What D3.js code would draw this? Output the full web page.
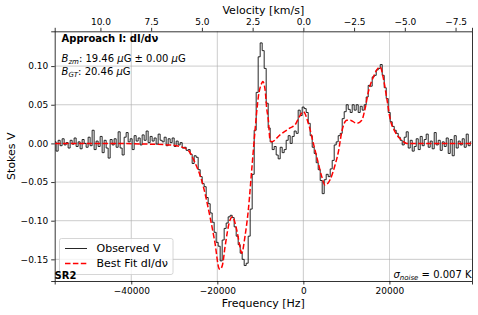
<!DOCTYPE html>
<html>
<head>
<meta charset="utf-8">
<script src="https://cdn.jsdelivr.net/npm/d3@7"></script>
<style>
  body { margin: 0; background: #fff; }
  text { font-family: "DejaVu Sans", sans-serif; }
</style>
</head>
<body>
<svg id="chart" width="478" height="315"></svg>
<script>
// observed Stokes V, one value per channel
var chanStart = -57700, chanWidth = 465;
var obsV = [
  0.002, -0.010, 0.004, -0.003, 0.006, -0.002, 0.001, -0.006, 0.004, -0.001,
  0.007, -0.004, 0.002, -0.007, 0.005, 0.000, -0.005, 0.008, -0.003, 0.017,
  -0.008, 0.003, -0.004, 0.009, -0.012, 0.004, -0.006, -0.019, 0.005, -0.002,
  0.006, -0.005, 0.015, -0.006, -0.015,
  0.008, 0.014, 0.002, 0.006, -0.008, 0.010, 0.003, 0.007, -0.002, 0.011,
  0.004, 0.016, 0.001, 0.009, 0.003, 0.007, -0.001, 0.012, 0.004, 0.002,
  0.008, -0.003, 0.006, 0.001, 0.007, -0.004, 0.003, -0.002, 0.001, -0.006,
  -0.005, -0.009, -0.008, -0.014, -0.026, -0.016, -0.018, -0.034, -0.043, -0.052,
  -0.056, -0.070, -0.078, -0.090, -0.102, -0.115, -0.128, -0.133, -0.152, -0.125,
  -0.110, -0.103, -0.095, -0.093, -0.096, -0.108, -0.120, -0.131, -0.142, -0.150,
  -0.158, -0.155, -0.120, -0.085, -0.040, 0.017, 0.066, 0.112, 0.130, 0.120,
  0.097, 0.052, 0.020, 0.002, -0.008, -0.004, -0.015, -0.020, -0.005, -0.012,
  -0.008, 0.004, 0.010, 0.000, 0.009, 0.016, 0.013, 0.043, 0.036, 0.047,
  0.045, 0.040, 0.026, 0.010, -0.005, -0.013, -0.025, -0.034, -0.048, -0.065,
  -0.047, -0.040, -0.043, -0.033, -0.022, -0.002, 0.002, 0.010, 0.013, 0.032,
  0.041, 0.050, 0.044, 0.040, 0.050, 0.043, 0.050, 0.040, 0.048, 0.043,
  0.050, 0.060, 0.075, 0.074, 0.086, 0.088, 0.095, 0.097, 0.102, 0.088,
  0.072, 0.058, 0.040, 0.028, 0.022, 0.017, 0.013, 0.008, 0.004, -0.002,
  0.008, 0.015, -0.006, 0.004, -0.010, -0.004, 0.006, -0.008, 0.009, -0.003,
  0.005, 0.012, -0.005, 0.003, -0.007, 0.014, -0.002, 0.004, -0.009, 0.002,
  -0.004, 0.007, -0.013, 0.005, -0.016, 0.010, -0.006, 0.003, -0.002, 0.006,
  -0.005, 0.012, -0.003, 0.002
];

// best fit dI/dv
var fitFreq = [-57700, -47300, -35650, -31000, -28680, -26750, -25190, -23630, -21700, -20540,
  -19600, -19370, -18790, -18210, -17050, -16510, -15490, -14720, -14330, -13560,
  -12790, -12000, -11230, -10470, -9670, -9440, -8910, -8510, -8130, -7740,
  -7350, -5420, -3090, -1930, -1160, 0, 1160, 2330, 3490, 4280,
  5050, 6210, 7370, 8140, 8930, 10090, 10860, 12420, 13580, 14350,
  15120, 16280, 17070, 17840, 18600, 19400, 20160, 21330, 22880, 24050,
  31800, 39200];
var fitV = [0.000, 0.000, -0.001, -0.002, -0.004, -0.009, -0.025, -0.048, -0.095, -0.129,
  -0.162, -0.163, -0.157, -0.134, -0.099, -0.095, -0.112, -0.134, -0.142, -0.120,
  -0.086, -0.034, 0.017, 0.060, 0.078, 0.080, 0.070, 0.045, 0.030, 0.004,
  0.002, 0.011, 0.020, 0.024, 0.032, 0.041, 0.026, 0.000, -0.026, -0.043,
  -0.054, -0.047, -0.028, -0.011, 0.015, 0.030, 0.030, 0.026, 0.030, 0.045,
  0.067, 0.086, 0.095, 0.099, 0.084, 0.058, 0.032, 0.015, 0.004, 0.000,
  0.000, 0.000];

var freqTicks = [-40000, -20000, 0, 20000];
var yTicks = [0.10, 0.05, 0.00, -0.05, -0.10, -0.15];
var velTicks = [10.0, 7.5, 5.0, 2.5, 0.0, -2.5, -5.0, -7.5];
var kmsPerHz = 2.12e-4;

var W = 478, H = 315,
    M = {top: 31.3, right: 6, bottom: 34, left: 54.7};

var svg = d3.select("#chart");
var x = d3.scaleLinear().domain([-57800, 39200]).range([M.left, W - M.right]);
var y = d3.scaleLinear().domain([-0.178, 0.145]).range([H - M.bottom, M.top]);
var xv = d3.scaleLinear().domain([57800 * kmsPerHz, -39200 * kmsPerHz]).range([M.left, W - M.right]);

var obs = obsV.map(function(v, i) { return {f: chanStart + i * chanWidth, v: v}; });
var fit = fitFreq.map(function(f, i) { return {f: f, v: fitV[i]}; });

svg.append("defs").append("clipPath").attr("id", "clip")
  .append("rect").attr("x", M.left).attr("y", M.top)
  .attr("width", W - M.left - M.right).attr("height", H - M.top - M.bottom);

// grid
var grid = svg.append("g");
grid.selectAll("line.gx").data(freqTicks).enter().append("line")
  .attr("x1", function(d) { return x(d); }).attr("x2", function(d) { return x(d); })
  .attr("y1", M.top).attr("y2", H - M.bottom)
  .attr("stroke", "#b0b0b0").attr("stroke-width", 0.8).attr("opacity", 0.8);
grid.selectAll("line.gy").data(yTicks).enter().append("line")
  .attr("y1", function(d) { return y(d); }).attr("y2", function(d) { return y(d); })
  .attr("x1", M.left).attr("x2", W - M.right)
  .attr("stroke", "#b0b0b0").attr("stroke-width", 0.8).attr("opacity", 0.8);

var fmtY = function(d) { return d3.format(".2f")(d).replace("-", "\u2212"); };
var fmtX = function(d) { return String(d).replace("-", "\u2212"); };
var fmtV = function(d) { return d3.format(".1f")(d).replace("-", "\u2212"); };

// axes
var gx = svg.append("g").attr("transform", "translate(0," + (H - M.bottom) + ")")
  .call(d3.axisBottom(x).tickValues(freqTicks).tickFormat(fmtX).tickSize(3.5).tickPadding(3));
var gy = svg.append("g").attr("transform", "translate(" + M.left + ",0)")
  .call(d3.axisLeft(y).tickValues(yTicks).tickFormat(fmtY).tickSize(3.5).tickPadding(3));
var gt = svg.append("g").attr("transform", "translate(0," + M.top + ")")
  .call(d3.axisTop(xv).tickValues(velTicks).tickFormat(fmtV).tickSize(3.5).tickPadding(3));
svg.append("g").attr("transform", "translate(" + (W - M.right) + ",0)")
  .call(d3.axisRight(y).tickValues([]).tickSize(0));
[gx, gy, gt].forEach(function(g) {
  g.selectAll("text").attr("font-size", 9).attr("font-family", "DejaVu Sans").attr("fill", "#000");
  g.selectAll("line").attr("stroke", "#000").attr("stroke-width", 0.8);
});
svg.selectAll(".domain").attr("stroke", "#000").attr("stroke-width", 0.8);

// lines
svg.append("path").datum(obs)
  .attr("clip-path", "url(#clip)")
  .attr("fill", "none").attr("stroke", "#000").attr("stroke-opacity", 0.85).attr("stroke-width", 1)
  .attr("d", d3.line().x(function(d) { return x(d.f); }).y(function(d) { return y(d.v); }).curve(d3.curveStep));
svg.append("path").datum(fit)
  .attr("clip-path", "url(#clip)")
  .attr("fill", "none").attr("stroke", "#ff0000").attr("stroke-width", 1.5)
  .attr("stroke-dasharray", "5.5,2.4")
  .attr("d", d3.line().x(function(d) { return x(d.f); }).y(function(d) { return y(d.v); }).curve(d3.curveMonotoneX));

// axis labels
svg.append("text").attr("x", (M.left + W - M.right) / 2).attr("y", 307)
  .attr("text-anchor", "middle").attr("font-size", 11).text("Frequency [Hz]");
svg.append("text").attr("x", (M.left + W - M.right) / 2).attr("y", 14)
  .attr("text-anchor", "middle").attr("font-size", 11).text("Velocity [km/s]");
svg.append("text").attr("transform", "translate(15," + ((M.top + H - M.bottom) / 2) + ") rotate(-90)")
  .attr("text-anchor", "middle").attr("font-size", 11).text("Stokes V");

// annotations
svg.append("text").attr("x", 61.5).attr("y", 41.7).attr("font-size", 10)
  .attr("font-weight", "bold").text("Approach I: dI/d\u03bd");

function mathLine(xp, yp, sub, rest) {
  var t = svg.append("text").attr("x", xp).attr("y", yp).attr("font-size", 10);
  t.append("tspan").attr("font-style", "italic").text("B");
  t.append("tspan").attr("font-style", "italic").attr("font-size", 7).attr("dy", 2).text(sub);
  t.append("tspan").attr("dy", -2).text(": ");
  rest.forEach(function(p) {
    var s = t.append("tspan").text(p[0]);
    if (p[1]) s.attr("font-style", "italic");
  });
}
mathLine(61.5, 61.5, "zm", [["19.46 "], ["\u03bc", true], ["G \u00b1 0.00 "], ["\u03bc", true], ["G"]]);
mathLine(61.5, 75, "GT", [["20.46 "], ["\u03bc", true], ["G"]]);

// legend
var lg = svg.append("g");
lg.append("rect").attr("x", 59.5).attr("y", 238.5).attr("width", 113.5).attr("height", 36)
  .attr("rx", 2).attr("fill", "#fff").attr("fill-opacity", 0.8)
  .attr("stroke", "#cccccc").attr("stroke-width", 0.8);
lg.append("line").attr("x1", 65).attr("x2", 87).attr("y1", 248.5).attr("y2", 248.5)
  .attr("stroke", "#000").attr("stroke-opacity", 0.85).attr("stroke-width", 1);
lg.append("line").attr("x1", 65).attr("x2", 87).attr("y1", 263.5).attr("y2", 263.5)
  .attr("stroke", "#ff0000").attr("stroke-width", 1.5).attr("stroke-dasharray", "5.5,2.4");
lg.append("text").attr("x", 96.5).attr("y", 252.3).attr("font-size", 11).text("Observed V");
lg.append("text").attr("x", 96.5).attr("y", 267.3).attr("font-size", 11).text("Best Fit dI/d\u03bd");

svg.append("text").attr("x", 54.5).attr("y", 279).attr("font-size", 10)
  .attr("font-weight", "bold").text("SR2");

var sn = svg.append("text").attr("x", 471.5).attr("y", 277.5).attr("font-size", 10)
  .attr("text-anchor", "end");
sn.append("tspan").attr("font-style", "italic").text("\u03c3");
sn.append("tspan").attr("font-style", "italic").attr("font-size", 7).attr("dy", 2).text("noise");
sn.append("tspan").attr("dy", -2).text(" = 0.007 K");
</script>
</body>
</html>
